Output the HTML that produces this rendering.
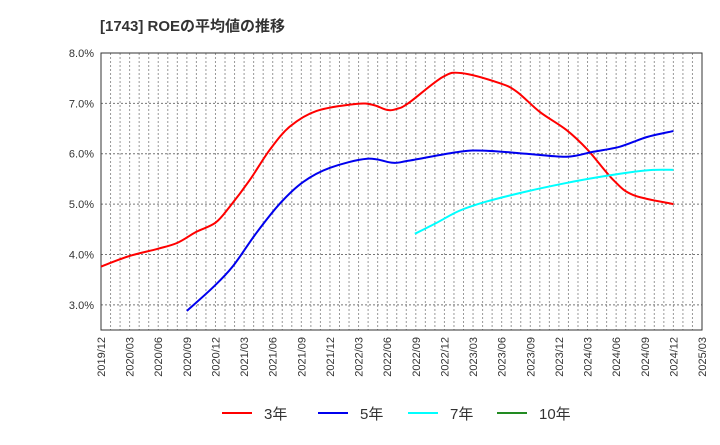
<!DOCTYPE html>
<html><head><meta charset="utf-8"><style>
body{margin:0;background:#fff;font-family:"Liberation Sans","Noto Sans CJK JP",sans-serif}
</style></head><body>
<svg width="720" height="440" xmlns="http://www.w3.org/2000/svg" font-family="Liberation Sans, Noto Sans CJK JP, sans-serif">
<text x="100" y="31" font-size="15" font-weight="bold" fill="#333">[1743]  ROEの平均値の推移</text>
<g id="grid"></g>
<g id="axes"></g>
<g id="series"></g>
<g id="legend"></g>
</svg>
<script>
const xTickLabels=["2019/12","2020/03","2020/06","2020/09","2020/12","2021/03","2021/06","2021/09","2021/12","2022/03","2022/06","2022/09","2022/12","2023/03","2023/06","2023/09","2023/12","2024/03","2024/06","2024/09","2024/12","2025/03"];
const yTicks=[3,4,5,6,7,8];
const yTickLabels=["3.0%","4.0%","5.0%","6.0%","7.0%","8.0%"];
const r3Months=[0,3,5.9,8,10,12,13.5,15.6,17.7,19.8,22.6,26.8,28.5,30,31,32.2,35.8,37.8,41.8,43.6,46,48.8,51,53.7,55.8,60];
const r3Values=[3.76,3.97,4.11,4.23,4.45,4.63,4.95,5.48,6.08,6.54,6.85,6.99,6.97,6.87,6.89,7.0,7.52,7.6,7.40,7.23,6.83,6.47,6.08,5.48,5.18,5.0];
const r5Months=[9,11.7,13.8,16.3,18.8,21.2,24,27.9,30.6,32.2,37.6,40.4,44.6,48.8,51.6,54.4,57.2,60];
const r5Values=[2.88,3.34,3.76,4.43,5.02,5.44,5.72,5.90,5.82,5.86,6.04,6.06,6.0,5.94,6.04,6.14,6.33,6.45];
const r7Months=[32.9,35.2,37.6,40.4,44.6,48.8,52.3,55.8,57.9,60];
const r7Values=[4.41,4.63,4.87,5.05,5.25,5.42,5.54,5.64,5.68,5.68];
const r10Months=[];
const r10Values=[];
const L=101,R=702,T=53,B=330,NM=63,YMIN=2.5,YMAX=8;
const xS=m=>L+(R-L)*m/NM;
const yS=v=>B-(B-T)*(v-YMIN)/(YMAX-YMIN);
const NS="http://www.w3.org/2000/svg";
function mk(tag,attrs,parent){const e=document.createElementNS(NS,tag);for(const k in attrs)e.setAttribute(k,attrs[k]);parent.appendChild(e);return e;}
const grid=document.getElementById('grid'),axes=document.getElementById('axes'),series=document.getElementById('series'),legend=document.getElementById('legend');
for(let m=1;m<NM;m++){const l=mk('line',{x1:xS(m),x2:xS(m),y1:T,y2:B,stroke:'#999','stroke-width':1,'stroke-dasharray':'2,2'},grid);

}
yTicks.forEach((v,i)=>{const y=yS(v);
if(v<YMAX){const l=mk('line',{x1:L,x2:R,y1:y,y2:y,stroke:'#777','stroke-width':1,'stroke-dasharray':'2,2'},grid);

}
const t=mk('text',{x:L-7,y:y+4,'text-anchor':'end','font-size':11,fill:'#333'},axes);t.textContent=yTickLabels[i];

});
const fr=mk('rect',{x:L,y:T,width:R-L,height:B-T,fill:'none',stroke:'#333','stroke-width':1},axes);


xTickLabels.forEach((s,i)=>{const x=xS(i*3)+4;const t=mk('text',{x:0,y:0,'text-anchor':'end','font-size':11,fill:'#333',transform:`translate(${x},337) rotate(-90)`},axes);t.textContent=s;

});
function path(ms,vs){const p=ms.map((m,i)=>[xS(m),yS(vs[i])]);if(!p.length)return '';let d=`M${p[0][0]},${p[0][1]}`;
for(let i=0;i<p.length-1;i++){const p0=p[Math.max(0,i-1)],p1=p[i],p2=p[i+1],p3=p[Math.min(p.length-1,i+2)];
d+=` C${p1[0]+(p2[0]-p0[0])/6},${p1[1]+(p2[1]-p0[1])/6} ${p2[0]-(p3[0]-p1[0])/6},${p2[1]-(p3[1]-p1[1])/6} ${p2[0]},${p2[1]}`;}return d;}
const defs=[["3年",r3Months,r3Values,"#ff0000","line-3yr"],["5年",r5Months,r5Values,"#0000ee","line-5yr"],["7年",r7Months,r7Values,"#00ffff","line-7yr"],["10年",r10Months,r10Values,"#228b22","line-10yr"]];
const lx=[222,318,408,497];
defs.forEach((d,i)=>{if(d[1].length){const p=mk('path',{d:path(d[1],d[2]),fill:'none',stroke:d[3],'stroke-width':2},series);

}
const g=mk('g',{},legend);


mk('line',{x1:lx[i],x2:lx[i]+30,y1:413,y2:413,stroke:d[3],'stroke-width':2},g);
const t=mk('text',{x:lx[i]+42,y:419,'font-size':15,fill:'#333'},g);t.textContent=d[0];});
</script>
</body></html>
